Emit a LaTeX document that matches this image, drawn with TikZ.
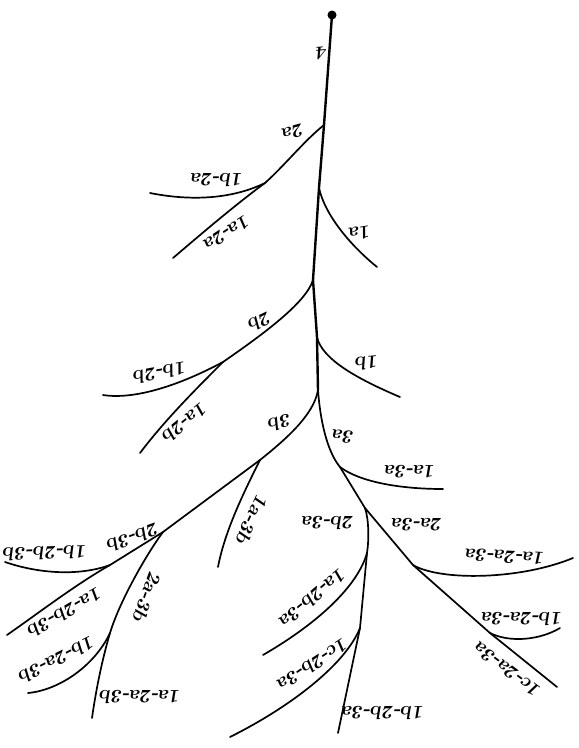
\documentclass[tikz,border=0pt]{standalone}
\begin{document}
\begin{tikzpicture}[x=1pt,y=-1pt,
  br/.style={line width=1.7pt,line cap=round},
  stem/.style={line width=2.4pt,line cap=round},
  lab/.style={font=\fontsize{19}{21}\selectfont\bfseries\slshape,inner sep=0pt}]
\useasboundingbox (0,0) rectangle (579,748);
% junctions and ends
\coordinate (top) at (332,15);
\coordinate (j2a) at (324,125);
\coordinate (j1a) at (319,188);
\coordinate (j2b) at (313,280);
\coordinate (j1b) at (317,337);
\coordinate (j3) at (318,390);
\coordinate (k2a) at (265,183);
\coordinate (e1b2a) at (150,193);
\coordinate (e1a2a) at (173,258);
\coordinate (e1a) at (377,267);
\coordinate (k2b) at (223,362);
\coordinate (e1b2b) at (103,395);
\coordinate (e1a2b) at (140,453);
\coordinate (e1b) at (400,397);
\coordinate (k3b) at (260,460);
\coordinate (e1a3b) at (218,567);
\coordinate (k2b3b) at (163,532);
\coordinate (k1x2b3b) at (110,565);
\coordinate (e1b2b3b) at (5,562);
\coordinate (e1a2b3b) at (7,635);
\coordinate (k1x2a3b) at (110,633);
\coordinate (e1b2a3b) at (28,693);
\coordinate (e1a2a3b) at (92,718);
\coordinate (k1a3a) at (340,467);
\coordinate (e1a3a) at (443,489);
\coordinate (k3a) at (365,508);
\coordinate (k1a2b3a) at (367,553);
\coordinate (k1c2b3a) at (360,628);
\coordinate (e1b2b3a) at (338,733);
\coordinate (e1a2b3a) at (263,655);
\coordinate (e1c2b3a) at (230,737);
\coordinate (k1a2a3a) at (413,565);
\coordinate (e1a2a3a) at (573,558);
\coordinate (k1x2a3a) at (490,633);
\coordinate (e1b2a3a) at (560,628);
\coordinate (e1c2a3a) at (557,687);
% stem
\fill (top) circle (4.5);
\draw[stem] (top) -- (j2a) -- (j1a) -- (j2b) -- (j1b) -- (j3);
% 2a group
\draw[br] (j2a) .. controls (305,140) and (285,165) .. (k2a);
\draw[br] (k2a) .. controls (228,201) and (185,200) .. (e1b2a);
\draw[br] (k2a) .. controls (235,205) and (200,235) .. (e1a2a);
\draw[br] (j1a) .. controls (325,215) and (350,245) .. (e1a);
% 2b group
\draw[br] (j2b) .. controls (306,303) and (262,335) .. (k2b);
\draw[br] (k2b) .. controls (180,385) and (135,400) .. (e1b2b);
\draw[br] (k2b) .. controls (195,390) and (165,420) .. (e1a2b);
\draw[br] (j1b) .. controls (322,360) and (360,380) .. (e1b);
% 3b group
\draw[br] (j3) .. controls (314,415) and (285,440) .. (k3b);
\draw[br] (k3b) .. controls (245,490) and (225,530) .. (e1a3b);
\draw[br] (k3b) -- (k2b3b);
\draw[br] (k2b3b) -- (k1x2b3b);
\draw[br] (k1x2b3b) .. controls (80,576) and (40,574) .. (e1b2b3b);
\draw[br] (k1x2b3b) .. controls (75,585) and (40,612) .. (e1a2b3b);
\draw[br] (k2b3b) .. controls (148,552) and (120,600) .. (k1x2a3b);
\draw[br] (k1x2a3b) .. controls (95,665) and (60,690) .. (e1b2a3b);
\draw[br] (k1x2a3b) .. controls (102,660) and (96,690) .. (e1a2a3b);
% 3a group
\draw[br] (j3) .. controls (321,430) and (330,455) .. (k1a3a) -- (k3a);
\draw[br] (k1a3a) .. controls (360,482) and (400,489) .. (e1a3a);
\draw[br] (k3a) .. controls (369,520) and (369,540) .. (k1a2b3a) -- (k1c2b3a) -- (e1b2b3a);
\draw[br] (k1a2b3a) .. controls (358,585) and (320,622) .. (e1a2b3a);
\draw[br] (k1c2b3a) .. controls (345,665) and (290,707) .. (e1c2b3a);
\draw[br] (k3a) -- (k1a2a3a) -- (k1x2a3a) -- (e1c2a3a);
\draw[br] (k1a2a3a) .. controls (440,581) and (520,580) .. (e1a2a3a);
\draw[br] (k1x2a3a) .. controls (510,643) and (540,640) .. (e1b2a3a);
% labels (printed upside down)
\node[lab,rotate=185] (l4) at (322,53) {4};
\node[lab,rotate=195] (l2a) at (293,132) {2a};
\node[lab,rotate=180] (l1b2a) at (217,180) {1b-2a};
\node[lab,rotate=213] (l1a2a) at (227,233) {1a-2a};
\node[lab,rotate=190] (l1a) at (360,233) {1a};
\node[lab,rotate=205] (l2b) at (260,322) {2b};
\node[lab,rotate=190] (l1b2b) at (160,373) {1b-2b};
\node[lab,rotate=219] (l1a2b) at (185,423) {1a-2b};
\node[lab,rotate=185] (l1b) at (367,363) {1b};
\node[lab,rotate=195] (l3b) at (280,423) {3b};
\node[lab,rotate=175] (l3a) at (343,437) {3a};
\node[lab,rotate=245] (l1a3b) at (252,520) {1a-3b};
\node[lab,rotate=180] (l1a3a) at (410,472) {1a-3a};
\node[lab,rotate=200] (l2b3b) at (133,538) {2b-3b};
\node[lab,rotate=182] (l1b2b3b) at (45,553) {1b-2b-3b};
\node[lab,rotate=250] (l2a3b) at (147,597) {2a-3b};
\node[lab,rotate=210] (l1a2b3b) at (65,613) {1a-2b-3b};
\node[lab,rotate=207] (l1b2a3b) at (57,660) {1b-2a-3b};
\node[lab,rotate=180] (l1a2a3b) at (140,697) {1a-2a-3b};
\node[lab,rotate=180] (l2b3a) at (328,523) {2b-3a};
\node[lab,rotate=180] (l2a3a) at (417,525) {2a-3a};
\node[lab,rotate=177] (l1a2a3a) at (505,557) {1a-2a-3a};
\node[lab,rotate=220] (l1a2b3a) at (313,598) {1a-2b-3a};
\node[lab,rotate=213] (l1c2b3a) at (313,665) {1c-2b-3a};
\node[lab,rotate=180] (l1b2b3a) at (383,713) {1b-2b-3a};
\node[lab,rotate=180] (l1b2a3a) at (522,619) {1b-2a-3a};
\node[lab,rotate=143] (l1c2a3a) at (507,670) {1c-2a-3a};
\end{tikzpicture}
\end{document}
